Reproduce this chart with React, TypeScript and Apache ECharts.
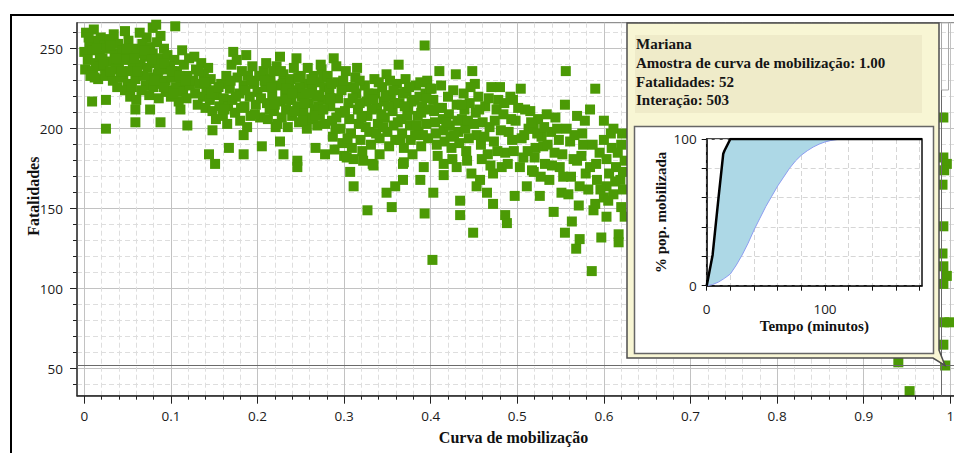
import React, { useEffect, useRef } from "react";
import * as echarts from "echarts";

// ---------- data ----------
const scatterBand1: number[][] = [
  [0.002,260],[0.011,262],[0.019,257],[0.034,259],[0.047,261],[0.006,254],[0.015,255],[0.023,252],[0.029,256],[0.039,253],
  [0.051,255],[0.057,250],[0.000,248],[0.009,249],[0.018,246],[0.026,250],[0.035,247],[0.044,249],[0.052,245],[0.004,243],
  [0.013,241],[0.021,244],[0.031,242],[0.040,240],[0.048,243],[0.056,239],[0.001,237],[0.010,236],[0.017,239],[0.027,235],
  [0.036,237],[0.045,234],[0.053,236],[0.007,233],[0.016,231],[0.024,233],[0.033,230],[0.042,232],[0.050,228],[0.059,231],
  [0.038,226],[0.047,224],[0.055,226],[0.053,220],[0.060,218],[0.009,217],[0.025,218],[0.025,200],[0.059,204],[0.059,212],
];

const scatterBand2: number[][] = [
  [0.064,260],[0.072,257],[0.079,263],[0.083,265],[0.088,258],[0.067,253],[0.076,251],[0.084,254],[0.092,250],[0.062,247],
  [0.070,245],[0.079,247],[0.087,244],[0.096,246],[0.104,243],[0.065,240],[0.073,238],[0.082,241],[0.090,237],[0.099,239],
  [0.107,236],[0.115,240],[0.068,233],[0.077,232],[0.085,234],[0.094,230],[0.102,232],[0.111,229],[0.119,233],[0.071,227],
  [0.080,226],[0.089,228],[0.097,224],[0.106,226],[0.114,223],[0.122,227],[0.075,221],[0.086,219],[0.100,220],[0.118,219],
  [0.105,264],[0.113,249],[0.121,244],[0.076,212],[0.088,204],[0.111,212],[0.109,217],[0.094,223],
];

const scatterBand3: number[][] = [
  [0.127,245],[0.135,241],[0.143,238],[0.129,237],[0.138,234],[0.146,231],[0.126,230],[0.133,228],[0.141,226],[0.149,224],
  [0.128,222],[0.137,220],[0.145,218],[0.153,221],[0.131,215],[0.140,213],[0.148,211],[0.156,214],[0.161,219],[0.152,206],
  [0.160,208],[0.165,203],[0.158,228],[0.164,233],[0.168,225],[0.166,214],[0.171,218],[0.170,240],[0.172,248],[0.176,243],
  [0.177,232],[0.179,222],[0.182,236],[0.184,227],[0.185,214],[0.187,246],[0.189,233],[0.191,220],[0.192,208],[0.194,239],
  [0.196,228],[0.198,215],[0.200,223],[0.202,233],[0.203,207],[0.174,210],[0.180,205],[0.188,201],[0.119,202],[0.148,199],
  [0.144,184],[0.151,178],[0.167,188],[0.184,196],[0.184,184],[0.205,189],
];

const scatterBand4: number[][] = [
  [0.207,236],[0.209,226],[0.211,216],[0.212,206],[0.215,231],[0.217,221],[0.219,211],[0.221,201],[0.222,239],[0.224,227],
  [0.226,245],[0.226,217],[0.228,207],[0.230,234],[0.232,222],[0.233,212],[0.235,201],[0.237,228],[0.239,218],[0.240,208],
  [0.242,238],[0.244,224],[0.245,244],[0.246,214],[0.248,204],[0.250,233],[0.251,220],[0.253,210],[0.255,228],[0.257,200],
  [0.258,238],[0.259,216],[0.261,206],[0.263,225],[0.265,233],[0.266,212],[0.268,220],[0.269,202],[0.271,229],[0.272,209],
  [0.274,237],[0.275,218],[0.277,226],[0.278,203],[0.210,241],[0.214,212],[0.218,236],[0.223,203],[0.229,228],[0.234,218],
  [0.238,231],[0.243,211],[0.249,226],[0.254,216],[0.260,222],[0.264,207],[0.270,214],[0.276,232],[0.273,240],[0.226,192],
  [0.230,184],[0.246,180],[0.246,176],[0.267,188],[0.278,184],
];

const scatterBand5: number[][] = [
  [0.281,233],[0.283,224],[0.284,214],[0.286,205],[0.287,195],[0.289,187],[0.288,244],[0.291,239],[0.292,229],[0.293,219],
  [0.295,210],[0.296,200],[0.298,191],[0.300,183],[0.302,236],[0.303,226],[0.305,216],[0.306,206],[0.308,197],[0.309,188],
  [0.311,181],[0.313,232],[0.314,222],[0.316,212],[0.317,203],[0.319,193],[0.321,186],[0.322,180],[0.315,238],[0.324,227],
  [0.326,217],[0.327,208],[0.329,198],[0.331,190],[0.333,178],[0.335,231],[0.336,222],[0.338,213],[0.339,203],[0.341,194],
  [0.341,184],[0.344,226],[0.346,217],[0.347,207],[0.349,234],[0.350,198],[0.352,189],[0.354,221],[0.356,211],[0.357,202],
  [0.359,193],[0.361,228],[0.363,240],[0.364,216],[0.366,206],[0.367,197],[0.369,188],[0.369,179],[0.371,231],[0.372,223],
  [0.374,212],[0.376,202],[0.377,193],[0.379,184],[0.381,218],[0.383,227],[0.385,208],[0.386,198],[0.388,229],[0.389,189],
  [0.390,214],[0.392,176],[0.393,252],[0.394,222],[0.395,203],[0.397,194],[0.399,225],[0.398,212],[0.285,228],[0.290,200],
  [0.297,224],[0.301,211],[0.310,219],[0.318,230],[0.320,207],[0.328,222],[0.332,212],[0.337,197],[0.343,209],[0.348,220],
  [0.353,230],[0.358,216],[0.362,204],[0.368,222],[0.373,208],[0.378,217],[0.384,202],[0.387,220],[0.391,196],[0.396,230],
  [0.303,182],[0.307,173],[0.311,164],[0.327,149],[0.349,160],[0.355,151],[0.359,164],[0.368,168],[0.368,178],[0.388,168],
  [0.393,147],[0.403,160],[0.402,118],[0.334,177],
];

const scatterBand6: number[][] = [
  [0.403,218],[0.404,211],[0.405,204],[0.406,197],[0.407,190],[0.408,183],[0.410,236],[0.412,227],[0.413,213],[0.414,206],
  [0.415,199],[0.416,192],[0.415,171],[0.415,178],[0.420,220],[0.421,209],[0.422,202],[0.423,195],[0.424,188],[0.425,181],
  [0.429,234],[0.430,215],[0.431,205],[0.432,198],[0.433,191],[0.430,176],[0.434,155],[0.434,146],[0.438,222],[0.439,212],
  [0.440,200],[0.441,186],[0.442,180],[0.447,172],[0.448,236],[0.449,135],[0.451,228],[0.452,210],[0.453,196],[0.453,164],
  [0.455,220],[0.457,168],[0.458,190],[0.460,204],[0.463,214],[0.465,160],[0.466,184],[0.468,201],[0.470,226],[0.472,153],
  [0.472,172],[0.473,192],[0.476,212],[0.478,218],[0.480,226],[0.482,176],[0.484,209],[0.486,146],[0.486,185],[0.488,141],
  [0.490,198],[0.492,220],[0.494,193],[0.495,218],[0.497,158],[0.498,205],[0.426,224],[0.436,206],[0.444,194],[0.445,216],
];

const scatterBand7: number[][] = [
  [0.504,225],[0.505,194],[0.507,182],[0.509,212],[0.511,164],[0.513,200],[0.515,211],[0.517,174],[0.519,200],[0.519,173],
  [0.521,188],[0.524,206],[0.526,158],[0.528,195],[0.530,189],[0.532,178],[0.534,209],[0.537,168],[0.539,198],[0.542,148],
  [0.543,185],[0.546,200],[0.549,176],[0.551,160],[0.553,170],[0.555,215],[0.555,135],[0.556,236],[0.559,159],[0.561,192],
  [0.563,142],[0.565,181],[0.568,125],[0.569,208],[0.569,180],[0.572,164],[0.572,131],[0.575,197],[0.576,190],[0.579,172],
  [0.584,212],[0.584,176],[0.586,111],[0.588,149],[0.590,225],[0.590,153],[0.592,168],[0.595,185],[0.597,132],[0.600,193],
  [0.600,157],[0.603,181],[0.603,164],[0.603,145],[0.606,172],[0.609,188],[0.611,200],[0.611,159],[0.614,176],[0.617,134],
  [0.617,129],[0.619,168],[0.620,190],[0.620,151],[0.621,197],[0.622,162],[0.624,180],[0.624,145],
];

const scatterFill: number[][] = [
  [0.005,257],[0.014,250],[0.022,240],[0.030,252],[0.037,244],[0.043,236],[0.049,250],[0.058,244],[0.012,232],[0.030,236],
  [0.061,236],[0.069,249],[0.078,243],[0.086,237],[0.093,241],[0.101,236],[0.110,233],[0.117,230],[0.081,230],[0.092,226],
  [0.066,224],[0.103,222],[0.132,236],[0.139,229],[0.147,222],[0.155,226],[0.162,212],[0.169,230],[0.175,220],[0.181,213],
  [0.186,224],[0.193,230],[0.197,209],[0.204,219],[0.208,230],[0.216,226],[0.220,215],[0.227,236],[0.233,225],[0.240,222],
  [0.247,232],[0.252,205],[0.256,222],[0.262,231],[0.267,208],[0.271,221],[0.276,212],[0.284,219],[0.291,207],[0.299,230],
  [0.304,194],[0.312,226],[0.318,216],[0.325,201],[0.334,218],[0.340,229],[0.345,201],[0.351,214],[0.357,224],[0.365,193],
  [0.370,214],[0.375,226],[0.382,196],[0.389,210],[0.395,219],[0.401,225],[0.409,213],[0.418,204],[0.427,196],[0.436,215],
  [0.443,205],
];

const scatterFillRight: number[][] = [
  [0.446,226],[0.450,203],[0.456,212],[0.459,181],[0.462,195],[0.467,219],[0.469,177],[0.474,205],[0.477,186],[0.481,199],
  [0.485,216],[0.489,178],[0.493,206],[0.496,186],[0.501,213],[0.503,176],[0.508,196],[0.512,186],[0.516,204],[0.520,182],
  [0.523,197],[0.527,170],[0.531,201],[0.535,190],[0.540,177],[0.544,207],[0.548,193],[0.552,184],[0.557,200],[0.562,170],
  [0.566,196],[0.571,152],[0.574,183],[0.578,205],[0.582,162],[0.587,190],[0.591,178],[0.596,162],[0.600,205],[0.605,155],
  [0.608,197],[0.613,167],[0.616,185],[0.622,173],
];

const scatterEdge: number[][] = [
  [0.992,207],[0.992,182],[0.996,178],[0.993,174],[0.991,165],[0.992,139],[0.991,122],[0.992,114],[0.996,108],[0.992,103],
  [0.993,79],[0.999,79],[0.992,65],[0.940,54],[0.953,36],
];

const selectedSample = [0.994, 52];

const tooltipLines = [
  "Mariana",
  "Amostra de curva de mobilização: 1.00",
  "Fatalidades: 52",
  "Interação: 503",
];

// inset: mobilization curves (minutes vs % population mobilized)
const minutes = [0, 5, 10, 14, 15, 20, 25, 30, 35, 40, 45, 50, 55, 60, 65, 70, 75, 80, 85, 90, 95, 100, 105, 110, 115, 120, 140, 160, 182];
const fastCurve = [0, 21, 60, 90, 92, 100, 100, 100, 100, 100, 100, 100, 100, 100, 100, 100, 100, 100, 100, 100, 100, 100, 100, 100, 100, 100, 100, 100, 100];
const slowCurve = [0, 0.8, 2.5, 4.5, 5, 8, 14, 21, 29, 38, 46, 54, 61, 68, 74, 80, 85, 89, 92, 94.5, 96.5, 98, 99, 99.6, 100, 100, 100, 100, 100];

const mainXTicks = [0, 0.1, 0.2, 0.3, 0.4, 0.5, 0.6, 0.7, 0.8, 0.9, 1];
const insetXTicks = [0, 20, 40, 60, 80, 100, 120, 140, 160, 180];
const insetLabels = [0, 100];

// ---------- layout ----------
const PL = 77, PT = 22.7, PB = 395.7, PR = 962;
const X0 = 84.3, XS = 866;
const Y50 = 368.7, YS = 1.6;
const XMIN = (PL - X0) / XS;
const XMAX = (PR - X0) / XS;
const YMIN = 50 - (PB - Y50) / YS;
const YMAX = 50 + (Y50 - PT) / YS;

const SERIF = '"Liberation Serif", "Times New Roman", serif';
const SANS = '"Open Sans", "Noto Sans", sans-serif';
const GREEN = "#4b9a05";

export default function App() {
  const ref = useRef<HTMLDivElement>(null);

  useEffect(() => {
    if (!ref.current) return;
    const chart = echarts.init(ref.current, null, { renderer: "svg" });

    const allPoints = [
      ...scatterBand1, ...scatterBand2, ...scatterBand3, ...scatterBand4, ...scatterBand5,
      ...scatterBand6, ...scatterBand7, ...scatterFill, ...scatterFillRight, ...scatterEdge, selectedSample,
    ];

    const hidden = { show: false };
    const labelStyle = { fontFamily: SANS, fontSize: 13.5, color: "#1b1b1b" };

    const option: any = {
      animation: false,
      backgroundColor: "#ffffff",
      grid: [
        { left: PL, top: PT, width: PR - PL, height: PB - PT, show: true, borderColor: "#777", borderWidth: 1, containLabel: false, outerBoundsMode: "none" },
        { left: X0, top: PT, width: XS, height: PB - PT, containLabel: false, outerBoundsMode: "none" },
        { left: PL, top: Y50 - 210 * YS, width: PR - PL, height: 220 * YS, containLabel: false, outerBoundsMode: "none" },
        { left: PL, top: Y50 - 200 * YS, width: PR - PL, height: 200 * YS, containLabel: false, outerBoundsMode: "none" },
        { left: 706.7, top: 139, width: 182 * 1.183, height: 146.7, show: true, borderColor: "#111", borderWidth: 1.5, z: 60, containLabel: false, outerBoundsMode: "none" },
      ],
      xAxis: [
        {
          gridIndex: 0, type: "value", min: XMIN, max: XMAX, z: 3,
          axisLine: { show: true, onZero: false, lineStyle: { color: "#222", width: 1.5 } },
          axisTick: hidden, axisLabel: hidden, splitLine: hidden,
          name: "Curva de mobilização", nameLocation: "middle", nameGap: 34,
          nameTextStyle: { fontFamily: SERIF, fontWeight: "bold", fontSize: 16, color: "#111", padding: [0, 12, 0, 0] },
        },
        {
          gridIndex: 1, type: "value", min: 0, max: 1, interval: 0.1, z: 1,
          axisLine: { show: false, onZero: false },
          axisTick: { show: true, length: 8, lineStyle: { color: "#222" }, customValues: mainXTicks },
          minorTick: { show: true, splitNumber: 5, length: 4, lineStyle: { color: "#222" } },
          axisLabel: { ...labelStyle, margin: 13, customValues: mainXTicks },
          splitLine: { show: true, lineStyle: { color: "#c2c2c2", width: 1 } },
          minorSplitLine: { show: true, lineStyle: { color: "#dedede", width: 1, type: [5, 3] } },
        },
        { gridIndex: 2, type: "value", min: 0, max: 1, show: false },
        { gridIndex: 3, type: "value", min: 0, max: 1, show: false },
        {
          gridIndex: 4, type: "value", min: 0, max: 182, interval: 20, z: 60,
          axisLine: { show: true, onZero: false, lineStyle: { color: "#111", width: 1.5 } },
          axisTick: { show: true, length: 5, lineStyle: { color: "#111" }, customValues: insetXTicks },
          axisLabel: {
            ...labelStyle, margin: 16, customValues: insetLabels,
            formatter: (v: number) => (insetLabels.indexOf(v) >= 0 ? String(v) : ""),
          },
          splitLine: { show: true, lineStyle: { color: "#d6d6d6", type: [5, 3] } },
          name: "Tempo (minutos)", nameLocation: "middle", nameGap: 33,
          nameTextStyle: { fontFamily: SERIF, fontWeight: "bold", fontSize: 15, color: "#111" },
        },
      ],
      yAxis: [
        {
          gridIndex: 0, type: "value", min: YMIN, max: YMAX, z: 3,
          axisLine: { show: true, onZero: false, lineStyle: { color: "#333", width: 1.5 } },
          axisTick: hidden, axisLabel: hidden, splitLine: hidden,
          name: "Fatalidades", nameLocation: "middle", nameGap: 36, nameRotate: 90,
          nameTextStyle: { fontFamily: SERIF, fontWeight: "bold", fontSize: 16, color: "#111", padding: [0, 0, 0, 26] },
        },
        { gridIndex: 1, type: "value", min: YMIN, max: YMAX, show: false },
        {
          gridIndex: 2, type: "value", min: 40, max: 260, interval: 10, z: 0,
          axisLine: { show: false, onZero: false },
          axisTick: { show: true, length: 4, lineStyle: { color: "#222" } },
          axisLabel: hidden,
          splitLine: { show: true, lineStyle: { color: "#dedede", width: 1, type: [5, 3] } },
        },
        {
          gridIndex: 3, type: "value", min: 50, max: 250, interval: 50, z: 1,
          axisLine: { show: false, onZero: false },
          axisTick: { show: true, length: 7, lineStyle: { color: "#222" } },
          axisLabel: { ...labelStyle, margin: 14 },
          splitLine: { show: true, lineStyle: { color: "#c2c2c2", width: 1 } },
        },
        {
          gridIndex: 4, type: "value", min: 0, max: 100, interval: 20, z: 60,
          axisLine: { show: true, onZero: false, lineStyle: { color: "#111", width: 1.5 } },
          axisTick: { show: true, length: 5, lineStyle: { color: "#111" } },
          axisLabel: {
            ...labelStyle, margin: 10, customValues: insetLabels,
            formatter: (v: number) => (insetLabels.indexOf(v) >= 0 ? String(v) : ""),
          },
          splitLine: { show: true, lineStyle: { color: "#d6d6d6", type: [5, 3] } },
          name: "% pop. mobilizada", nameLocation: "middle", nameGap: 38, nameRotate: 90,
          nameTextStyle: { fontFamily: SERIF, fontWeight: "bold", fontSize: 15, color: "#111" },
        },
      ],
      series: [
        {
          type: "scatter", xAxisIndex: 0, yAxisIndex: 0, silent: true, z: 2,
          symbol: "rect", symbolSize: 10,
          itemStyle: { color: GREEN, opacity: 1 },
          data: allPoints,
          markLine: {
            silent: true, symbol: ["none", "none"], label: { show: false },
            lineStyle: { color: "#6a6a6a", width: 1, type: "solid" },
            data: [{ yAxis: selectedSample[1] }, { xAxis: selectedSample[0] }],
          },
        },
        {
          type: "custom", xAxisIndex: 4, yAxisIndex: 4, silent: true, z: 61,
          data: [[0, 0]],
          renderItem: (_params: any, api: any) => {
            const upper = minutes.map((t, i) => api.coord([t, fastCurve[i]]));
            const lower = minutes.map((t, i) => api.coord([t, slowCurve[i]])).reverse();
            return {
              type: "polygon",
              shape: { points: upper.concat(lower) },
              style: { fill: "#add8e6", stroke: "none" },
            };
          },
        },
        {
          type: "line", xAxisIndex: 4, yAxisIndex: 4, silent: true, z: 62,
          symbol: "none", lineStyle: { color: "#8c9cf0", width: 1 },
          data: minutes.map((t, i) => [t, slowCurve[i]]),
        },
        {
          type: "line", xAxisIndex: 4, yAxisIndex: 4, silent: true, z: 63,
          symbol: "none", lineStyle: { color: "#000", width: 2.5 },
          data: minutes.map((t, i) => [t, fastCurve[i]]),
        },
      ],
      graphic: [
        {
          type: "rect", z: 1, silent: true,
          shape: { x: 11, y: 15, width: 1000, height: 500 },
          style: { fill: "none", stroke: "#000", lineWidth: 2 },
        },
        {
          type: "rect", z: 40, silent: true,
          shape: { x: 941.5, y: 22.7, width: 7, height: 67.3 },
          style: { fill: "none", stroke: "#a8a8a8", lineWidth: 1 },
        },
        {
          type: "polygon", z: 50, silent: true,
          shape: { points: [[627, 23], [939, 23], [939, 350], [945, 365.5], [933, 358], [627, 358]] },
          style: { fill: "#f8f6d4", stroke: "#4e4e4e", lineWidth: 1.5 },
        },
        {
          type: "rect", z: 51, silent: true,
          shape: { x: 635, y: 35, width: 287, height: 78 },
          style: { fill: "#efebc9" },
        },
        {
          type: "text", z: 52, silent: true, x: 636, y: 35,
          style: {
            text: tooltipLines.join("\n"), fontFamily: SERIF, fontWeight: "bold", fontSize: 15,
            lineHeight: 18.7, fill: "#151515",
          },
        },
        {
          type: "rect", z: 53, silent: true,
          shape: { x: 634.5, y: 126.5, width: 299, height: 227 },
          style: { fill: "#ffffff", stroke: "#666", lineWidth: 1.5 },
        },
      ],
    };

    chart.setOption(option);
    return () => chart.dispose();
  }, []);

  return (
    <div
      ref={ref}
      style={{ position: "fixed", left: 0, top: 0, width: 954, height: 453, background: "#fff" }}
    />
  );
}
